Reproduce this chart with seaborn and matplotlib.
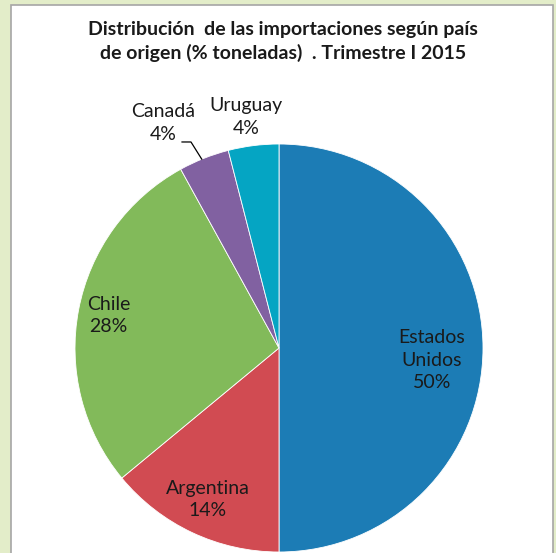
import numpy as np
import matplotlib
matplotlib.use("Agg")
import matplotlib.pyplot as plt
import seaborn as sns
from matplotlib.patches import Rectangle

sns.set_theme(style="white")
plt.rcParams['font.family'] = ['Lato', 'DejaVu Sans']

# data
paises = ['Estados\nUnidos', 'Argentina', 'Chile', 'Canadá', 'Uruguay']
porcentajes = [50, 14, 28, 4, 4]
colores = ['#1C7CB5', '#D14B52', '#82BA5A', '#8161A1', '#05A5C3']

fig = plt.figure(figsize=(5.56, 5.53), dpi=100)
fig.patch.set_facecolor('#E3EDC9')
fig.patches.append(Rectangle((11 / 556, -0.01), 542 / 556, 1 - 5 / 553 + 0.01,
                             transform=fig.transFigure, facecolor='white',
                             edgecolor='#A6A6A6', linewidth=1.2, zorder=0))

ax = fig.add_axes([0.1349, 0.0018, 0.7338, 0.7378], zorder=2)
ax.patch.set_alpha(0)
wedges, _ = ax.pie(porcentajes, colors=colores, startangle=90, counterclock=False,
                   radius=1, wedgeprops=dict(linewidth=0.6, edgecolor='white'))
ax.set_xlim(-1, 1)
ax.set_ylim(-1, 1)
ax.set_aspect('equal')

# label radial distance per slice
dist = [0.75, 0.82, 0.85, 1.24, 1.14]
for w, nombre, p, d in zip(wedges, paises, porcentajes, dist):
    ang = np.deg2rad((w.theta1 + w.theta2) / 2)
    x, y = d * np.cos(ang), d * np.sin(ang)
    if nombre == 'Canadá':
        x, y = x - 0.11, y - 0.05
    if nombre == 'Uruguay':
        x -= 0.02
    if nombre.startswith('Estados'):
        y -= 0.06
    ax.text(x, y, f'{nombre}\n{p}%', ha='center', va='center', fontsize=14,
            color='#1a1a1a', linespacing=1.4, clip_on=False)
    if nombre == 'Canadá':
        ex, ey = np.cos(ang), np.sin(ang)
        ax.plot([x + 0.09, x + 0.135, ex - 0.01], [y - 0.093, y - 0.093, ey - 0.005],
                color='black', linewidth=0.9, clip_on=False)

fig.text(0.509, 0.925, 'Distribución  de las importaciones según país\nde origen (% toneladas)  . Trimestre I 2015',
         ha='center', va='center', fontsize=14, fontweight='bold', color='#1a1a1a',
         linespacing=1.45)

fig.savefig('out.png', dpi=100, facecolor=fig.get_facecolor())
